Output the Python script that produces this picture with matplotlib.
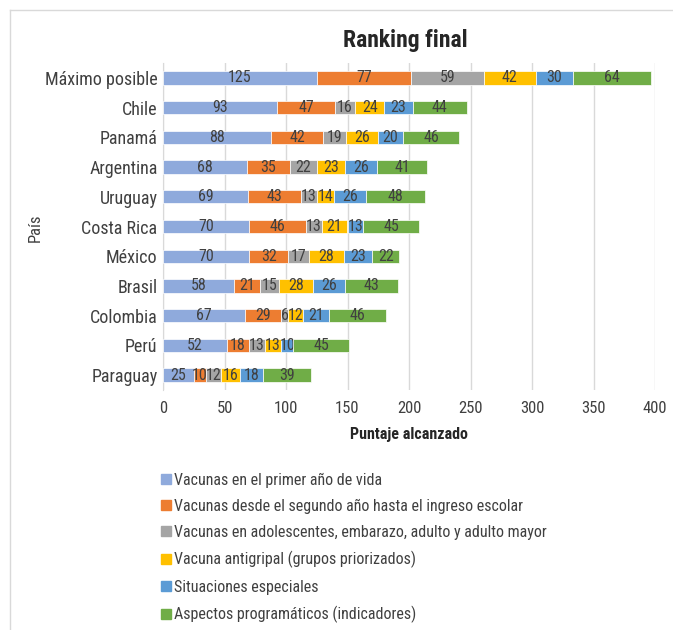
import numpy as np
import matplotlib.pyplot as plt
from matplotlib.patches import Rectangle
from matplotlib.lines import Line2D

plt.rcParams['font.family'] = ['Roboto Condensed', 'DejaVu Sans']

# Datos
paises = ['Máximo posible', 'Chile', 'Panamá', 'Argentina', 'Uruguay', 'Costa Rica',
          'México', 'Brasil', 'Colombia', 'Perú', 'Paraguay']
primer_anio = [125, 93, 88, 68, 69, 70, 70, 58, 67, 52, 25]
segundo_anio = [77, 47, 42, 35, 43, 46, 32, 21, 29, 18, 10]
adolescentes = [59, 16, 19, 22, 13, 13, 17, 15, 6, 13, 12]
antigripal = [42, 24, 26, 23, 14, 21, 28, 28, 12, 13, 16]
especiales = [30, 23, 20, 26, 26, 13, 23, 26, 21, 10, 18]
programaticos = [64, 44, 46, 41, 48, 45, 22, 43, 46, 45, 39]

series = [primer_anio, segundo_anio, adolescentes, antigripal, especiales, programaticos]
nombres = ['Vacunas en el primer año de vida',
           'Vacunas desde el segundo año hasta el ingreso escolar',
           'Vacunas en adolescentes, embarazo, adulto y adulto mayor',
           'Vacuna antigripal (grupos priorizados)',
           'Situaciones especiales',
           'Aspectos programáticos (indicadores)']
colores = ['#8FAADC', '#ED7D31', '#A5A5A5', '#FFC000', '#5B9BD5', '#70AD47']

texto = '#404040'

fig = plt.figure(figsize=(6.73, 6.30), dpi=100)
ax = fig.add_axes([163 / 673, 1 - 390 / 630, 492 / 673, 327 / 630])

y = np.arange(len(paises))
izq = np.zeros(len(paises))
for vals, nombre, c in zip(series, nombres, colores):
    vals = np.array(vals)
    bars = ax.barh(y, vals, left=izq, height=0.45, color=c, edgecolor='white',
                   linewidth=0.5, label=nombre, zorder=3)
    ax.bar_label(bars, labels=[str(v) for v in vals], label_type='center',
                 fontsize=11.5, color=texto)
    izq += vals

ax.set_ylim(len(paises) - 0.5, -0.5)
ax.set_xlim(0, 400)
ax.set_xticks(np.arange(0, 401, 50))
ax.set_yticks(y)
ax.set_yticklabels(paises, fontsize=13, color=texto)
ax.tick_params(axis='x', labelsize=12, labelcolor=texto, length=0, pad=8)
ax.tick_params(axis='y', length=0, pad=4)
ax.grid(axis='x', color='#D9D9D9', linewidth=1, zorder=0)
for s in ['top', 'right', 'bottom']:
    ax.spines[s].set_visible(False)
ax.spines['left'].set_color('#D9D9D9')

ax.set_xlabel('Puntaje alcanzado', fontsize=11.5, fontweight='bold', color='#262626',
              labelpad=8)
fig.text(35 / 673, 1 - 228 / 630, 'País', rotation=90, fontsize=12, color=texto,
         ha='center', va='center')
fig.text(405 / 673, 1 - 41 / 630, 'Ranking final', fontsize=17, fontweight='bold',
         color='#262626', ha='center', va='center')

# Leyenda
handles = [Rectangle((0, 0), 1, 1, color=c) for c in colores]
fig.legend(handles, nombres, loc='upper left', bbox_to_anchor=(147 / 673, 1 - 458 / 630),
           frameon=False, fontsize=11.5, labelcolor=texto, handlelength=0.6,
           handleheight=0.6, handletextpad=0.2, labelspacing=0.7)

# Marco
fig.add_artist(Line2D([10 / 673, 10 / 673], [0, 1 - 10 / 630], color='#D9D9D9',
                      linewidth=1, transform=fig.transFigure))
fig.add_artist(Line2D([10 / 673, 1], [1 - 10 / 630, 1 - 10 / 630], color='#D9D9D9',
                      linewidth=1, transform=fig.transFigure))

plt.savefig('out.png', dpi=100)
